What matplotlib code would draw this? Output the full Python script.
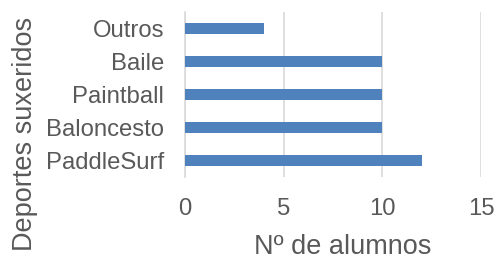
import matplotlib.pyplot as plt

categories = ['PaddleSurf', 'Baloncesto', 'Paintball', 'Baile', 'Outros']
alumnos = [12, 10, 10, 10, 4]
xticks = [0, 5, 10, 15]

plt.rcParams['font.family'] = ['Liberation Sans', 'DejaVu Sans']
text_col = '#595959'
grid_col = '#D9D9D9'

W, H = 494, 262
fig = plt.figure(figsize=(W / 100, H / 100), dpi=100)
ax = fig.add_axes([185 / W, (H - 177) / H, 296 / W, 165 / H])

ax.barh(range(len(categories)), alumnos, height=0.36, color='#4F81BD', zorder=3)
ax.set_xlim(0, 15)
ax.set_ylim(-0.5, len(categories) - 0.5)
ax.set_xticks(xticks)
ax.set_yticks(range(len(categories)))
ax.set_yticklabels(categories)

ax.grid(axis='x', color=grid_col, linewidth=1.2, zorder=0)
for s in ['top', 'right', 'bottom']:
    ax.spines[s].set_visible(False)
ax.spines['left'].set_color(grid_col)
ax.spines['left'].set_linewidth(1.2)
ax.tick_params(axis='x', length=0, pad=15, labelsize=17.2, labelcolor=text_col)
ax.tick_params(axis='y', length=0, pad=15, labelsize=17.2, labelcolor=text_col)

# axis titles placed like the excel original
fig.text(343 / W, 1 - 247 / H, 'Nº de alumnos', fontsize=19.5, color=text_col,
         ha='center', va='center')
fig.text(25 / W, 1 - 134 / H, 'Deportes suxeridos', fontsize=19.5, color=text_col,
         ha='center', va='center', rotation=90)

fig.savefig('out.png', dpi=100)
